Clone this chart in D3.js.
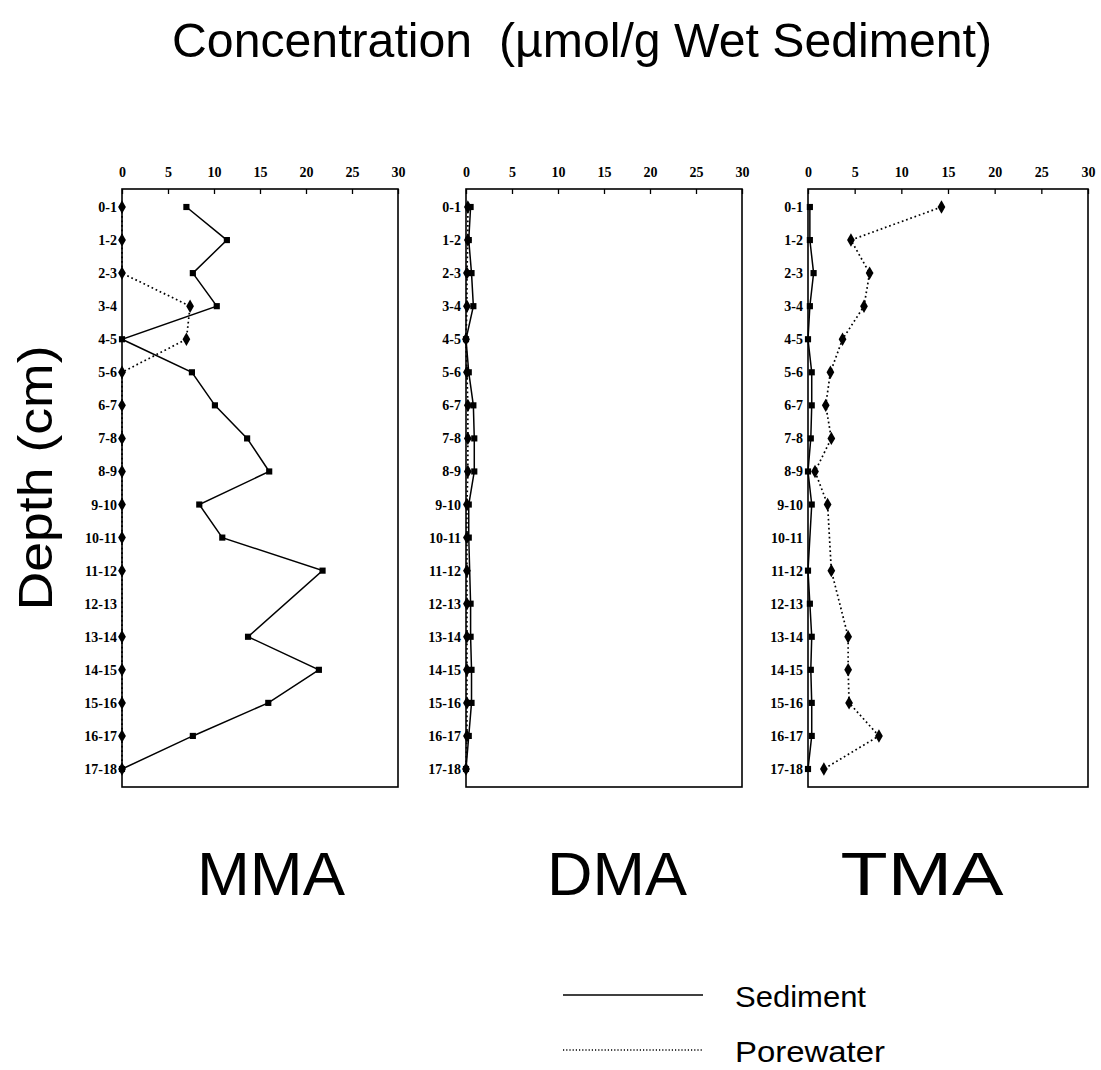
<!DOCTYPE html>
<html>
<head>
<meta charset="utf-8">
<script src="https://cdn.jsdelivr.net/npm/d3@7"></script>
<style>
  html, body { margin: 0; padding: 0; background: #fff; }
  svg { display: block; }
</style>
</head>
<body>
<svg id="chart" width="1101" height="1070"></svg>
<script>
// Depth intervals (cm) down the core
const depths = ["0-1","1-2","2-3","3-4","4-5","5-6","6-7","7-8","8-9","9-10",
                "10-11","11-12","12-13","13-14","14-15","15-16","16-17","17-18"];
const xTicks = [0, 5, 10, 15, 20, 25, 30];
const speciesNames = ["MMA", "DMA", "TMA"];

// Concentrations (µmol/g wet sediment); null = not measured
const mmaSediment  = [7.0, 11.4, 7.7, 10.3, 0, 7.6, 10.1, 13.6, 16.0, 8.4, 10.9, 21.8, null, 13.7, 21.4, 15.9, 7.7, 0];
const mmaPorewater = [0, 0, 0, 7.4, 7.0, 0, 0, 0, 0, 0, 0, 0, null, 0, 0, 0, 0, 0];
const dmaSediment  = [0.5, 0.3, 0.6, 0.8, 0, 0.3, 0.8, 0.9, 0.9, 0.3, 0.3, null, 0.5, 0.5, 0.6, 0.6, 0.3, 0];
const dmaPorewater = [0.2, 0.2, 0.1, 0.1, 0, 0.1, 0.2, 0.2, 0.2, 0.1, 0.1, 0.1, 0.1, 0.1, 0.1, 0.1, 0.1, 0];
const tmaSediment  = [0.2, 0.2, 0.6, 0.2, 0, 0.4, 0.4, 0.3, 0, 0.4, null, 0, 0.2, 0.4, 0.3, 0.4, 0.4, 0];
const tmaPorewater = [14.3, 4.6, 6.6, 6.0, 3.7, 2.4, 1.9, 2.5, 0.75, 2.1, null, 2.5, null, 4.3, 4.3, 4.4, 7.6, 1.7];

const legendLabels = ["Sediment", "Porewater"];

const svg = d3.select("#chart");
const sansFont = "'Liberation Sans', Arial, sans-serif";
const tickFont = "'Liberation Serif', 'Times New Roman', serif";

// Panel frames
const panelLayout = [
  { left: 122, right: 398, sed: mmaSediment, pore: mmaPorewater, title: 271, titleLen: 148 },
  { left: 466, right: 742, sed: dmaSediment, pore: dmaPorewater, title: 617, titleLen: 140 },
  { left: 808, right: 1088, sed: tmaSediment, pore: tmaPorewater, title: 922, titleLen: 163 }
];
const frameTop = 189, frameBottom = 787;
const y = d3.scalePoint().domain(depths).range([207, 769]);

// Chart title (condensed sans, double space kept)
svg.append("text")
  .attr("x", 582).attr("y", 57)
  .attr("text-anchor", "middle")
  .attr("font-family", sansFont)
  .attr("font-size", 48)
  .attr("textLength", 820)
  .attr("lengthAdjust", "spacingAndGlyphs")
  .style("white-space", "pre")
  .text("Concentration\u00a0 (µmol/g Wet Sediment)");

// Vertical axis title
svg.append("text")
  .attr("transform", "translate(52,478) rotate(-90)")
  .attr("text-anchor", "middle")
  .attr("font-family", sansFont)
  .attr("font-size", 48)
  .attr("textLength", 265)
  .attr("lengthAdjust", "spacingAndGlyphs")
  .text("Depth (cm)");

const diamond = d3.symbol().type(d3.symbolDiamond).size(52);
const square = d3.symbol().type(d3.symbolSquare).size(38);

panelLayout.forEach((p, i) => {
  const x = d3.scaleLinear().domain([0, 30]).range([p.left, p.right]);
  const g = svg.append("g");

  // Frame
  g.append("rect")
    .attr("x", p.left).attr("y", frameTop)
    .attr("width", p.right - p.left).attr("height", frameBottom - frameTop)
    .attr("fill", "none").attr("stroke", "#000").attr("stroke-width", 1.6);

  // Concentration axis along the top, ticks pointing into the frame
  const xAxis = d3.axisTop(x).tickValues(xTicks).tickSize(-5).tickPadding(12).tickFormat(d3.format("d"));
  const ax = g.append("g").attr("transform", `translate(0,${frameTop})`).call(xAxis);
  ax.select(".domain").remove();
  ax.selectAll(".tick line").attr("stroke", "#000").attr("stroke-width", 1.3);
  ax.selectAll(".tick text")
    .attr("font-family", tickFont).attr("font-weight", "bold").attr("font-size", 14)
    .attr("fill", "#000");

  // Depth labels
  const yAxis = d3.axisLeft(y).tickSize(0).tickPadding(5);
  const ay = g.append("g").attr("transform", `translate(${p.left},0)`).call(yAxis);
  ay.select(".domain").remove();
  ay.selectAll(".tick text")
    .attr("font-family", tickFont).attr("font-weight", "bold").attr("font-size", 14)
    .attr("fill", "#000");

  const line = d3.line()
    .x(d => x(d.v)).y(d => y(d.depth));
  const toPts = arr => arr.map((v, k) => ({ depth: depths[k], v }))
    .filter(d => d.v !== null);

  const pore = toPts(p.pore);
  const sed = toPts(p.sed);

  // Porewater: dotted line with diamonds
  g.append("path").datum(pore)
    .attr("d", line).attr("fill", "none")
    .attr("stroke", "#000").attr("stroke-width", 1.7)
    .attr("stroke-dasharray", "1.7,2.8");
  g.selectAll(".pw").data(pore).join("path")
    .attr("transform", d => `translate(${x(d.v)},${y(d.depth)})`)
    .attr("d", diamond).attr("fill", "#000");

  // Sediment: solid line with squares
  g.append("path").datum(sed)
    .attr("d", line).attr("fill", "none")
    .attr("stroke", "#000").attr("stroke-width", 1.5);
  g.selectAll(".sd").data(sed).join("path")
    .attr("transform", d => `translate(${x(d.v)},${y(d.depth)})`)
    .attr("d", square).attr("fill", "#000");

  // Species label under each panel
  svg.append("text")
    .attr("x", p.title).attr("y", 895)
    .attr("text-anchor", "middle")
    .attr("font-family", sansFont)
    .attr("font-size", 62)
    .attr("textLength", p.titleLen)
    .attr("lengthAdjust", "spacingAndGlyphs")
    .text(speciesNames[i]);
});

// Legend
const legend = svg.append("g");
legend.append("line")
  .attr("x1", 563).attr("x2", 703).attr("y1", 995).attr("y2", 995)
  .attr("stroke", "#000").attr("stroke-width", 1.5);
legend.append("line")
  .attr("x1", 563).attr("x2", 703).attr("y1", 1050).attr("y2", 1050)
  .attr("stroke", "#000").attr("stroke-width", 1.4).attr("stroke-dasharray", "1.2,2");
legend.selectAll(".lt").data(legendLabels).join("text")
  .attr("x", 735).attr("y", (d, k) => 1007 + k * 55)
  .attr("font-family", sansFont).attr("font-size", 30)
  .attr("textLength", (d, k) => k === 0 ? 131 : 150)
  .attr("lengthAdjust", "spacingAndGlyphs")
  .text(d => d);
</script>
</body>
</html>
